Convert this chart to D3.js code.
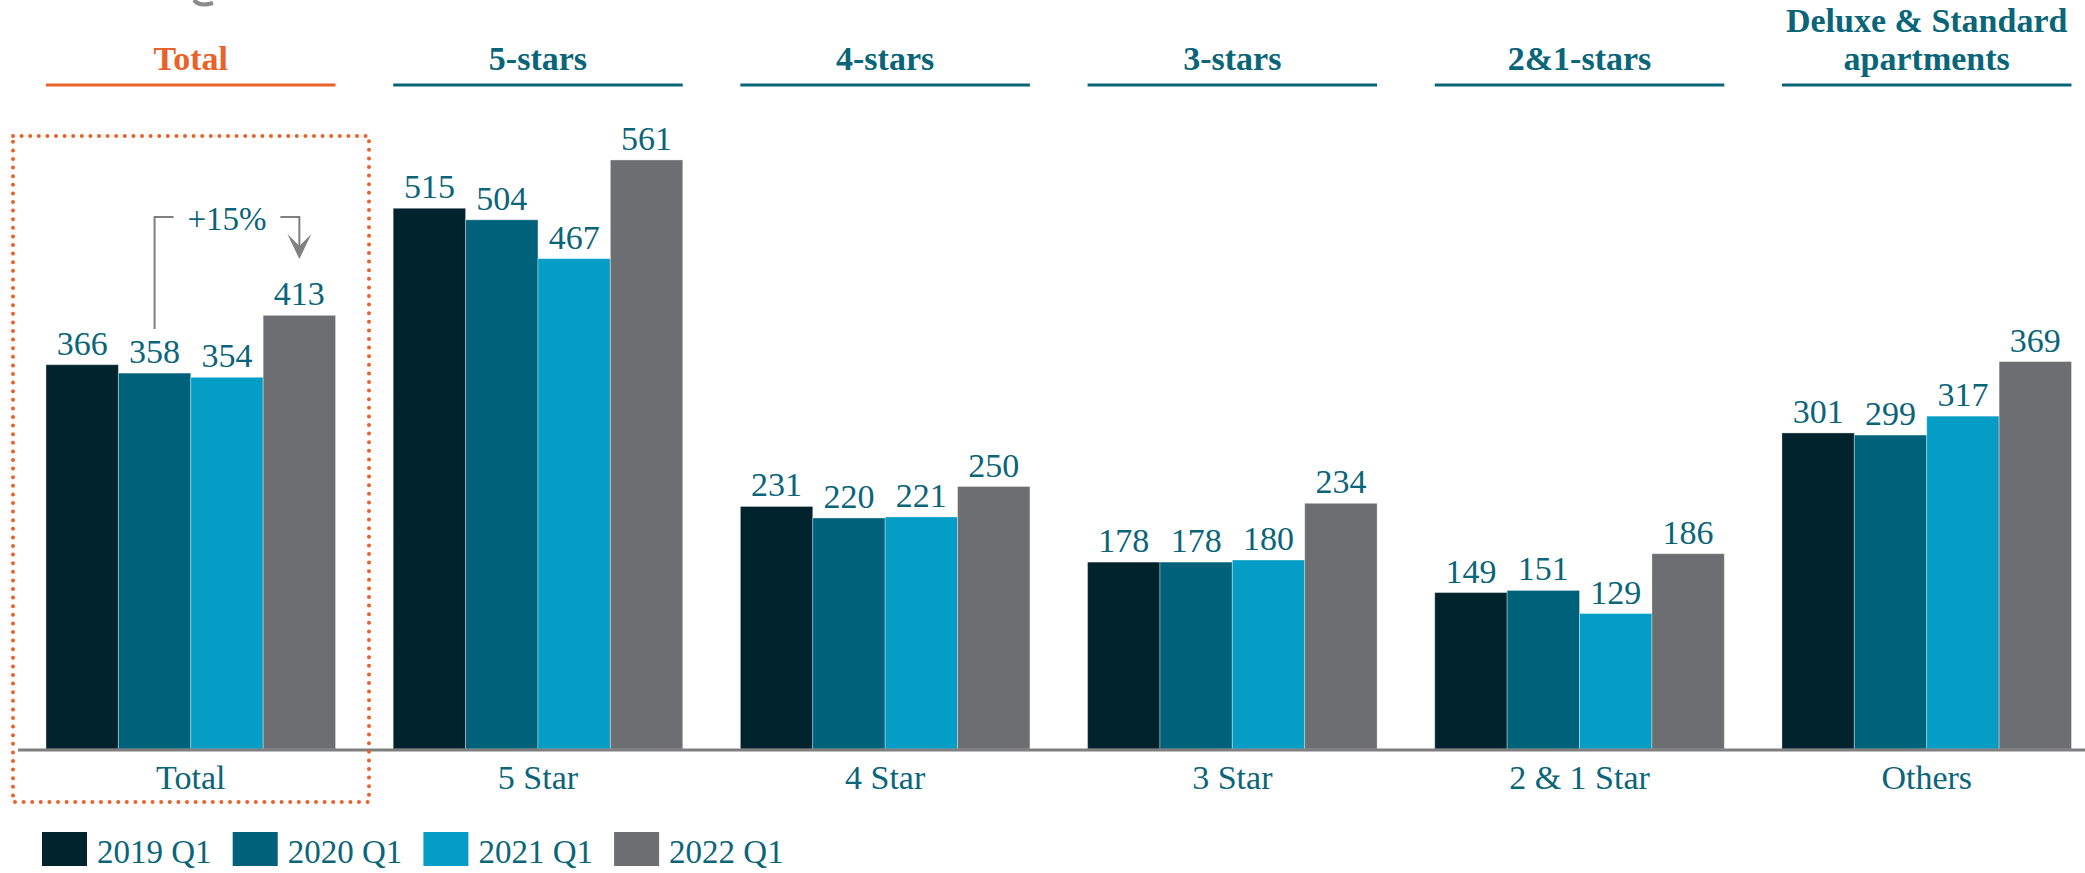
<!DOCTYPE html>
<html>
<head>
<meta charset="utf-8">
<script src="https://cdn.jsdelivr.net/npm/d3@7"></script>
<style>
  body { margin: 0; background: #fff; }
  text { font-family: "Liberation Serif", "DejaVu Serif", serif; }
</style>
</head>
<body>
<svg width="2085" height="873"></svg>
<script>
'use strict';

// data
const categories = ['Total', '5 Star', '4 Star', '3 Star', '2 & 1 Star', 'Others'];
const headers = [['Total'], ['5-stars'], ['4-stars'], ['3-stars'], ['2&1-stars'], ['Deluxe & Standard', 'apartments']];
const series = ['2019 Q1', '2020 Q1', '2021 Q1', '2022 Q1'];
const q1_2019 = [366, 515, 231, 178, 149, 301];
const q1_2020 = [358, 504, 220, 178, 151, 299];
const q1_2021 = [354, 467, 221, 180, 129, 317];
const q1_2022 = [413, 561, 250, 234, 186, 369];
const growthLabel = '+15%';

const colors = ['#00232e', '#00627a', '#049dc5', '#6d6e71'];
const teal = '#0b6579';
const orange = '#e8622a';

const svg = d3.select('svg');
const values = [q1_2019, q1_2020, q1_2021, q1_2022];
const data = categories.map((c, i) => ({
  cat: c,
  vals: series.map((s, j) => ({ key: s, value: values[j][i] }))
}));

const baseline = 749;
const x0 = d3.scaleBand().domain(categories).range([46, 2071.5]).paddingInner(0.166).paddingOuter(0);
const x1 = d3.scaleBand().domain(series).range([0, x0.bandwidth()]).padding(0);
const y = d3.scaleLinear().domain([0, 700]).range([baseline, baseline - 735]);

// small cut-off shape at the top
svg.append('path')
  .attr('d', 'M194,0 Q199,7 213,3')
  .attr('fill', 'none')
  .attr('stroke', '#8a8a8a')
  .attr('stroke-width', 4);

// headers
const hdr = svg.append('g').selectAll('g').data(categories).enter().append('g')
  .attr('transform', d => `translate(${x0(d)},0)`);

hdr.append('line')
  .attr('x1', 0).attr('x2', x0.bandwidth())
  .attr('y1', 85).attr('y2', 85)
  .attr('stroke', (d, i) => i === 0 ? orange : teal)
  .attr('stroke-width', 3);

hdr.each(function (d, i) {
  const lines = headers[i];
  const g = d3.select(this);
  lines.forEach((t, k) => {
    g.append('text')
      .attr('x', x0.bandwidth() / 2)
      .attr('y', 70 - (lines.length - 1 - k) * 38)
      .attr('text-anchor', 'middle')
      .attr('font-size', 34)
      .attr('font-weight', 'bold')
      .attr('fill', i === 0 ? orange : teal)
      .text(t);
  });
});

// bars
const grp = svg.append('g').selectAll('g').data(data).enter().append('g')
  .attr('transform', d => `translate(${x0(d.cat)},0)`);

grp.selectAll('rect').data(d => d.vals).enter().append('rect')
  .attr('x', d => x1(d.key))
  .attr('y', d => y(d.value))
  .attr('width', x1.bandwidth())
  .attr('height', d => baseline - y(d.value))
  .attr('fill', (d, i) => colors[i])
  .attr('stroke', 'rgba(255,255,255,0.35)')
  .attr('stroke-width', 1);

grp.selectAll('text.val').data(d => d.vals).enter().append('text')
  .attr('class', 'val')
  .attr('x', d => x1(d.key) + x1.bandwidth() / 2)
  .attr('y', d => y(d.value) - 10)
  .attr('text-anchor', 'middle')
  .attr('font-size', 34)
  .attr('fill', teal)
  .text(d => d.value);

// baseline
svg.append('line')
  .attr('x1', 18).attr('x2', 2085)
  .attr('y1', baseline + 1).attr('y2', baseline + 1)
  .attr('stroke', '#7f7f7f')
  .attr('stroke-width', 3);

// category labels
svg.append('g').selectAll('text').data(categories).enter().append('text')
  .attr('x', d => x0(d) + x0.bandwidth() / 2)
  .attr('y', 789)
  .attr('text-anchor', 'middle')
  .attr('font-size', 34)
  .attr('fill', teal)
  .text(d => d);

// dotted box round Total
svg.append('rect')
  .attr('x', 13).attr('y', 136)
  .attr('width', 356).attr('height', 666)
  .attr('fill', 'none')
  .attr('stroke', orange)
  .attr('stroke-width', 4)
  .attr('stroke-linecap', 'round')
  .attr('stroke-dasharray', '0 8.6');

// growth annotation
const xa = x0('Total') + x1('2020 Q1') + x1.bandwidth() / 2;
const xb = x0('Total') + x1('2022 Q1') + x1.bandwidth() / 2;
const ann = svg.append('g').attr('stroke', '#808080').attr('stroke-width', 2).attr('fill', 'none');
ann.append('path').attr('d', `M${xa},${y(q1_2020[0]) - 44}V217H${xa + 19}`);
ann.append('path').attr('d', `M${xb - 19},217H${xb}V255`);
svg.append('path')
  .attr('d', `M${xb - 12},234L${xb},259L${xb + 12},234L${xb},246Z`)
  .attr('fill', '#808080');
svg.append('text')
  .attr('x', (xa + xb) / 2 + 0)
  .attr('y', 230)
  .attr('text-anchor', 'middle')
  .attr('font-size', 33)
  .attr('fill', teal)
  .text(growthLabel);

// legend
const leg = svg.append('g').selectAll('g').data(series).enter().append('g')
  .attr('transform', (d, i) => `translate(${42 + i * 190.7},832)`);
leg.append('rect')
  .attr('width', 45).attr('height', 34)
  .attr('fill', (d, i) => colors[i]);
leg.append('text')
  .attr('x', 55).attr('y', 31)
  .attr('font-size', 33)
  .attr('fill', teal)
  .text(d => d);
</script>
</body>
</html>
